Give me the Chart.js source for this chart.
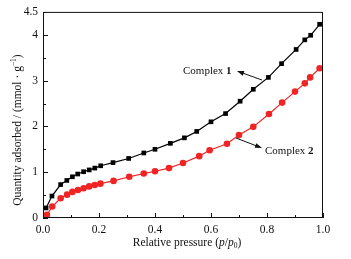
<!DOCTYPE html>
<html>
<head>
<meta charset="utf-8">
<script src="https://cdn.jsdelivr.net/npm/chart.js@4.4.1/dist/chart.umd.min.js"></script>
<style>
html, body { margin: 0; padding: 0; background: #fff; }
#wrap { width: 351px; height: 259px; }
</style>
</head>
<body>
<div id="wrap"><canvas id="c" width="351" height="259"></canvas></div>
<script>
var pressure1 = [0.011, 0.032, 0.063, 0.085, 0.105, 0.124, 0.145, 0.165, 0.185, 0.206, 0.25, 0.306, 0.36, 0.40, 0.455, 0.505, 0.549, 0.60, 0.652, 0.704, 0.751, 0.805, 0.852, 0.904, 0.935, 0.956, 0.988];
var adsorbed1 = [0.22, 0.48, 0.73, 0.82, 0.90, 0.96, 1.01, 1.05, 1.09, 1.14, 1.21, 1.30, 1.42, 1.50, 1.63, 1.75, 1.89, 2.10, 2.28, 2.55, 2.81, 3.07, 3.37, 3.68, 3.89, 3.99, 4.23];
var pressure2 = [0.014, 0.033, 0.063, 0.086, 0.105, 0.125, 0.145, 0.165, 0.185, 0.205, 0.252, 0.308, 0.36, 0.40, 0.45, 0.50, 0.558, 0.595, 0.657, 0.70, 0.751, 0.807, 0.854, 0.90, 0.935, 0.954, 0.988];
var adsorbed2 = [0.07, 0.25, 0.43, 0.51, 0.57, 0.61, 0.65, 0.69, 0.72, 0.75, 0.81, 0.90, 0.97, 1.02, 1.09, 1.20, 1.35, 1.48, 1.62, 1.81, 1.99, 2.27, 2.52, 2.76, 2.94, 3.07, 3.27];
var xTicks = [0, 0.2, 0.4, 0.6, 0.8, 1.0];
var yTicks = [0, 1, 2, 3, 4, 4.5];

var serif = '"Liberation Serif", "DejaVu Serif", serif';

function pts(xs, ys) {
    return xs.map(function (x, i) { return { x: x, y: ys[i] }; });
}

// frame, inward ticks, axis titles and the two labels
var extras = {
    id: 'extras',
    afterDraw: function (chart) {
        var ctx = chart.ctx;
        var a = chart.chartArea;
        var xs = chart.scales.x, ys = chart.scales.y;
        ctx.save();
        ctx.strokeStyle = '#111';
        ctx.lineWidth = 1;
        ctx.strokeRect(a.left + 0.5, a.top + 0.5, a.right - a.left - 1, a.bottom - a.top - 1);

        ctx.beginPath();
        for (var v = 0; v <= 1.0001; v += 0.1) {
            var px = Math.round(xs.getPixelForValue(v)) + 0.5;
            var major = Math.abs(v * 5 - Math.round(v * 5)) < 0.01;
            ctx.moveTo(px, a.bottom);
            ctx.lineTo(px, a.bottom - (major ? 5 : 3));
        }
        for (var w = 0; w <= 4.5001; w += 0.5) {
            var py = Math.round(ys.getPixelForValue(w)) + 0.5;
            var maj = Math.abs(w - Math.round(w)) < 0.01;
            ctx.moveTo(a.left, py);
            ctx.lineTo(a.left + (maj ? 5 : 3), py);
        }
        ctx.stroke();

        ctx.fillStyle = '#111';
        ctx.textBaseline = 'middle';

        // x title
        drawParts(ctx, [
            ['Relative pressure (', 'normal', 0, 11.5],
            ['p', 'italic', 0, 11.5],
            ['/', 'normal', 0, 11.5],
            ['p', 'italic', 0, 11.5],
            ['0', 'normal', 3, 7.5],
            [')', 'normal', 0, 11.5]
        ], 187, 243);

        // y title
        ctx.save();
        ctx.translate(18, 130);
        ctx.rotate(-Math.PI / 2);
        drawParts(ctx, [
            ['Quantity adsorbed / (mmol \u00b7 g', 'normal', 0, 11.5],
            ['\u22121', 'normal', -4, 7.5],
            [')', 'normal', 0, 11.5]
        ], 0, 0);
        ctx.restore();

        // labels
        ctx.textAlign = 'left';
        ctx.font = '11px ' + serif;
        ctx.fillText('Complex ', 183, 71);
        var w1 = ctx.measureText('Complex ').width;
        ctx.font = 'bold 11px ' + serif;
        ctx.fillText('1', 183 + w1, 71);

        ctx.font = '11px ' + serif;
        ctx.fillText('Complex ', 265, 151);
        var w2 = ctx.measureText('Complex ').width;
        ctx.font = 'bold 11px ' + serif;
        ctx.fillText('2', 265 + w2, 151);

        arrow(ctx, 262, 80, 237, 71);
        arrow(ctx, 236, 138, 262, 148);
        ctx.restore();
    }
};

function drawParts(ctx, parts, cx, cy) {
    var total = 0;
    parts.forEach(function (p) {
        ctx.font = (p[1] === 'italic' ? 'italic ' : '') + p[3] + 'px ' + serif;
        p.w = ctx.measureText(p[0]).width;
        total += p.w;
    });
    var x = cx - total / 2;
    ctx.textAlign = 'left';
    parts.forEach(function (p) {
        ctx.font = (p[1] === 'italic' ? 'italic ' : '') + p[3] + 'px ' + serif;
        ctx.fillText(p[0], x, cy + p[2]);
        x += p.w;
    });
}

function arrow(ctx, x1, y1, x2, y2) {
    var ang = Math.atan2(y2 - y1, x2 - x1);
    ctx.beginPath();
    ctx.moveTo(x1, y1);
    ctx.lineTo(x2 - 4 * Math.cos(ang), y2 - 4 * Math.sin(ang));
    ctx.stroke();
    ctx.beginPath();
    ctx.moveTo(x2, y2);
    ctx.lineTo(x2 - 7 * Math.cos(ang) + 2.5 * Math.sin(ang), y2 - 7 * Math.sin(ang) - 2.5 * Math.cos(ang));
    ctx.lineTo(x2 - 7 * Math.cos(ang) - 2.5 * Math.sin(ang), y2 - 7 * Math.sin(ang) + 2.5 * Math.cos(ang));
    ctx.closePath();
    ctx.fill();
}

var chart = new Chart(document.getElementById('c'), {
    type: 'scatter',
    data: {
        datasets: [
            {
                label: 'Complex 1',
                data: pts(pressure1, adsorbed1),
                showLine: true,
                borderColor: '#000',
                backgroundColor: '#000',
                borderWidth: 1.2,
                pointStyle: 'rect',
                pointRadius: 3.3,
                pointBorderWidth: 0
            },
            {
                label: 'Complex 2',
                data: pts(pressure2, adsorbed2),
                showLine: true,
                borderColor: '#f02424',
                backgroundColor: '#f02424',
                borderWidth: 1.2,
                pointStyle: 'circle',
                pointRadius: 3.3,
                pointBorderWidth: 0
            }
        ]
    },
    options: {
        responsive: false,
        animation: false,
        clip: false,
        layout: { padding: { left: 0, right: 28, top: 11, bottom: 0 } },
        plugins: { legend: { display: false }, tooltip: { enabled: false } },
        scales: {
            x: {
                type: 'linear',
                min: 0, max: 1.0,
                grid: { display: false, drawTicks: false },
                border: { display: false },
                afterBuildTicks: function (s) { s.ticks = xTicks.map(function (v) { return { value: v }; }); },
                afterFit: function (s) { s.height = 41; },
                ticks: {
                    padding: 5,
                    color: '#111',
                    font: { family: serif, size: 11.5 },
                    maxRotation: 0,
                    callback: function (v) { return Number(v).toFixed(1); }
                }
            },
            y: {
                type: 'linear',
                min: 0, max: 4.5,
                grid: { display: false, drawTicks: false },
                border: { display: false },
                afterBuildTicks: function (s) { s.ticks = yTicks.map(function (v) { return { value: v }; }); },
                afterFit: function (s) { s.width = 43; },
                ticks: {
                    padding: 5,
                    color: '#111',
                    font: { family: serif, size: 11.5 },
                    callback: function (v) { return String(v); }
                }
            }
        }
    },
    plugins: [extras]
});
</script>
</body>
</html>
